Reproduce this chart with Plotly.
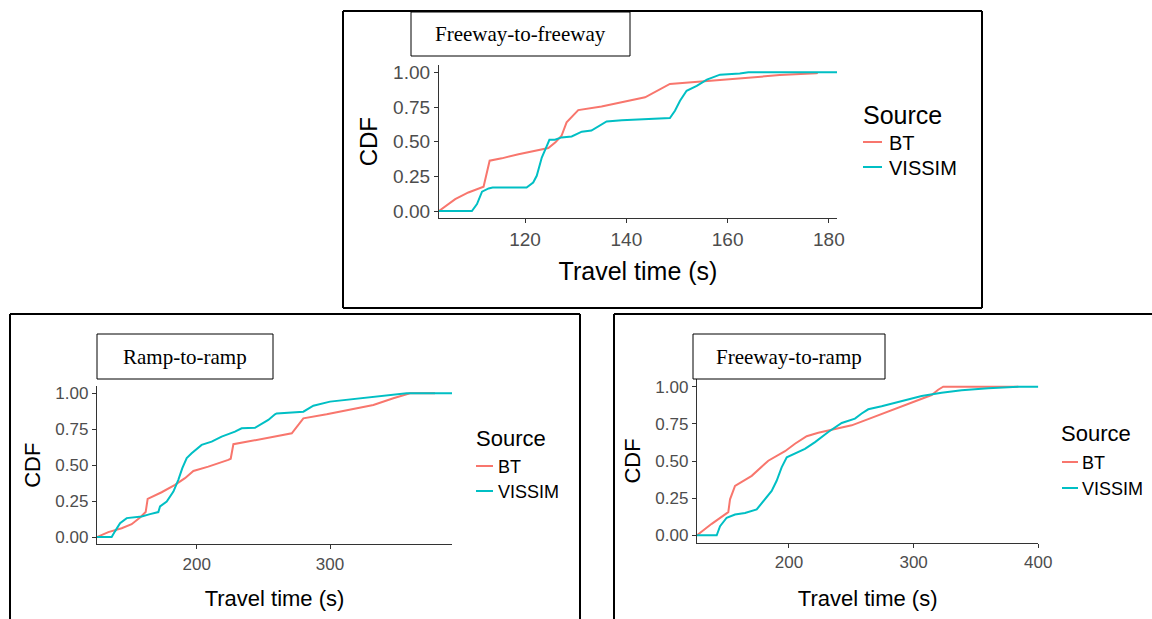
import plotly.graph_objects as go

# ---------------- data ----------------
# Freeway-to-freeway
ff_bt_x = [103.0, 106.2, 108.8, 111.8, 113.0, 115.4, 118.7, 122.0, 124.6, 126.0, 127.2, 128.2,
           130.5, 135.1, 139.0, 143.7, 148.6, 154.5, 162.4, 170.3, 177.5, 177.8]
ff_bt_y = [0.0, 0.086, 0.134, 0.175, 0.363, 0.38, 0.41, 0.435, 0.454, 0.495, 0.543, 0.64,
           0.728, 0.754, 0.783, 0.82, 0.916, 0.934, 0.959, 0.98, 0.993, 0.995]
ff_vs_x = [103.0, 109.5, 110.5, 111.5, 112.8, 113.6, 120.3, 121.6, 122.3, 123.3, 124.3, 124.8,
           125.9, 127.2, 129.2, 131.2, 133.1, 134.5, 136.1, 139.1, 143.7, 148.6, 149.6, 150.6,
           151.9, 153.9, 155.9, 158.5, 162.4, 164.1, 181.6]
ff_vs_y = [0.0, 0.0, 0.05, 0.14, 0.163, 0.17, 0.17, 0.206, 0.254, 0.386, 0.47, 0.514,
           0.514, 0.531, 0.538, 0.572, 0.58, 0.608, 0.646, 0.655, 0.66, 0.67, 0.723, 0.795,
           0.867, 0.903, 0.947, 0.983, 0.992, 1.0, 1.0]

# Ramp-to-ramp
rr_bt_x = [125.0, 133.7, 143.7, 151.2, 157.5, 161.7, 163.2, 173.7, 183.7, 191.2, 197.5, 208.7,
           223.7, 225.5, 227.5, 238.7, 258.7, 271.3, 280.0, 297.5, 315.0, 332.5, 347.5, 360.0, 378.8]
rr_bt_y = [0.0, 0.035, 0.062, 0.09, 0.136, 0.174, 0.266, 0.312, 0.363, 0.41, 0.46, 0.49,
           0.537, 0.545, 0.646, 0.664, 0.699, 0.722, 0.826, 0.854, 0.884, 0.919, 0.965, 1.0, 1.0]
rr_vs_x = [125.0, 136.2, 138.7, 142.5, 147.5, 158.7, 165.0, 171.2, 172.5, 177.5, 182.5, 186.2,
           189.2, 192.5, 196.2, 203.7, 211.2, 218.7, 228.7, 233.7, 243.7, 253.7, 258.7, 260.0,
           280.0, 287.5, 300.0, 322.5, 337.5, 357.5, 391.5]
rr_vs_y = [0.0, 0.0, 0.04, 0.097, 0.132, 0.144, 0.16, 0.174, 0.213, 0.247, 0.317, 0.398,
           0.479, 0.549, 0.583, 0.641, 0.664, 0.699, 0.733, 0.757, 0.76, 0.815, 0.854, 0.86,
           0.872, 0.914, 0.942, 0.965, 0.983, 1.0, 1.0]

# Freeway-to-ramp
fr_bt_x = [126.2, 138.0, 151.3, 152.7, 156.7, 170.1, 183.4, 196.8, 204.8, 214.2, 223.5, 236.9,
           250.3, 263.0, 282.4, 305.0, 314.4, 319.7, 323.7, 384.0]
fr_bt_y = [0.0, 0.077, 0.156, 0.242, 0.333, 0.40, 0.502, 0.566, 0.616, 0.667, 0.69, 0.717,
           0.74, 0.78, 0.842, 0.91, 0.944, 0.98, 1.0, 1.0]
fr_vs_x = [126.2, 142.0, 144.7, 150.0, 156.7, 164.7, 174.1, 179.4, 186.1, 190.1, 194.1, 198.2,
           204.8, 212.8, 220.9, 231.5, 242.3, 252.9, 258.3, 263.6, 274.3, 287.7, 306.4, 322.4,
           338.5, 359.8, 383.9, 400.0]
fr_vs_y = [0.0, 0.0, 0.061, 0.118, 0.14, 0.15, 0.174, 0.231, 0.299, 0.367, 0.457, 0.525,
           0.552, 0.582, 0.627, 0.695, 0.756, 0.785, 0.82, 0.848, 0.868, 0.898, 0.937, 0.96,
           0.977, 0.99, 1.0, 1.0]

panel_titles = ["Freeway-to-freeway", "Ramp-to-ramp", "Freeway-to-ramp"]
series_names = ["BT", "VISSIM"]
legend_title = "Source"
colors = ["#F8766D", "#00BFC4"]
y_ticks = [0, 0.25, 0.5, 0.75, 1.0]
y_ticktext = ["0.00", "0.25", "0.50", "0.75", "1.00"]
x_ticks_ff = [120, 140, 160, 180]
x_ticks_rr = [200, 300]
x_ticks_fr = [200, 300, 400]

W, H = 1152, 619
SANS = "Liberation Sans, Arial, sans-serif"
SERIF = "Liberation Serif, Times New Roman, serif"


def px(x):
    return x / W


def py(y):
    return 1 - y / H


fig = go.Figure()

panels = [
    dict(ax="", data=[(ff_bt_x, ff_bt_y), (ff_vs_x, ff_vs_y)]),
    dict(ax="2", data=[(rr_bt_x, rr_bt_y), (rr_vs_x, rr_vs_y)]),
    dict(ax="3", data=[(fr_bt_x, fr_bt_y), (fr_vs_x, fr_vs_y)]),
]
for i, p in enumerate(panels):
    for (xs, ys), name, col in zip(p["data"], series_names, colors):
        fig.add_trace(go.Scatter(
            x=xs, y=ys, mode="lines", name=name,
            line=dict(color=col, width=2),
            xaxis="x" + p["ax"], yaxis="y" + p["ax"],
            legendgroup=name, showlegend=False,
        ))


def xaxis(domain, rng, ticks, anchor, fs_tick, fs_title, standoff):
    return dict(domain=domain, range=rng, tickvals=ticks, anchor=anchor,
                showline=True, linecolor="#333333", linewidth=1.3,
                ticks="outside", ticklen=4, tickcolor="#333333", tickwidth=1.2,
                showgrid=False, zeroline=False,
                tickfont=dict(family=SANS, size=fs_tick, color="#4D4D4D"),
                title=dict(text="Travel time (s)", font=dict(family=SANS, size=fs_title, color="black"),
                           standoff=standoff),
                automargin=False)


def yaxis(domain, anchor, fs_tick, fs_title, standoff):
    return dict(domain=domain, range=[-0.05, 1.05], tickvals=y_ticks, ticktext=y_ticktext,
                anchor=anchor,
                showline=True, linecolor="#333333", linewidth=1.3,
                ticks="outside", ticklen=4, tickcolor="#333333", tickwidth=1.2,
                showgrid=False, zeroline=False,
                tickfont=dict(family=SANS, size=fs_tick, color="#4D4D4D"),
                title=dict(text="CDF", font=dict(family=SANS, size=fs_title, color="black"),
                           standoff=standoff),
                automargin=False)


fig.update_layout(
    width=W, height=H,
    margin=dict(l=0, r=0, t=0, b=0),
    paper_bgcolor="white", plot_bgcolor="white",
    xaxis=xaxis([px(439), px(837)], [103.0, 181.6], x_ticks_ff, "y", 19, 25, 13),
    yaxis=yaxis([py(218), py(65.4)], "x", 19, 24, 8),
    xaxis2=xaxis([px(97), px(452)], [125.2, 391.5], x_ticks_rr, "y2", 17, 22, 17),
    yaxis2=yaxis([py(544.3), py(386.1)], "x2", 17, 22, 8),
    xaxis3=xaxis([px(697), px(1038.3)], [126.2, 400.0], x_ticks_fr, "y3", 17, 22, 19),
    yaxis3=yaxis([py(542.7), py(379.3)], "x3", 17, 22, 8),
    showlegend=False,
)

# legends (ggplot-style "Source" keys), one per panel
# (title_x, title_y, key_x0, key_x1, text_x, item_ys, title_size, item_size)
legends = [
    (862, 115, 863, 882, 888, [142, 167], 25, 20),
    (475, 438, 476, 493, 497, [466, 491], 22, 18),
    (1060, 433, 1062, 1078, 1081, [462, 488], 22, 18),
]
for tx, ty, kx0, kx1, itx, iys, fst, fsi in legends:
    fig.add_annotation(xref="paper", yref="paper", x=px(tx), y=py(ty), text=legend_title,
                       showarrow=False, xanchor="left", yanchor="middle", borderpad=0,
                       font=dict(family=SANS, size=fst, color="black"))
    for iy, name, col in zip(iys, series_names, colors):
        fig.add_shape(type="line", xref="paper", yref="paper",
                      x0=px(kx0), x1=px(kx1), y0=py(iy), y1=py(iy),
                      line=dict(color=col, width=2))
        fig.add_annotation(xref="paper", yref="paper", x=px(itx), y=py(iy + 1), text=name,
                           showarrow=False, xanchor="left", yanchor="middle", borderpad=0,
                           font=dict(family=SANS, size=fsi, color="black"))

# outer frames of the three panels (kept inside the page)
frame_lines = [
    (343, 11, 982, 11), (343, 308, 982, 308), (343, 11, 343, 308), (982, 11, 982, 308),
    (10, 314, 580, 314), (10, 314, 10, 619), (580, 314, 580, 619),
    (614, 314, 1152, 314), (614, 314, 614, 619),
]
for x0, y0, x1, y1 in frame_lines:
    fig.add_shape(type="line", xref="paper", yref="paper",
                  x0=px(x0), y0=py(y0), x1=px(x1), y1=py(y1),
                  line=dict(color="black", width=2), layer="above")

# title boxes
boxes = [(411, 12, 630, 56), (97, 334, 273, 379), (693, 334, 885, 379)]
for (x0, y0, x1, y1), t in zip(boxes, panel_titles):
    fig.add_shape(type="rect", xref="paper", yref="paper",
                  x0=px(x0), y0=py(y1), x1=px(x1), y1=py(y0),
                  line=dict(color="black", width=1), fillcolor="white", layer="above")
    fig.add_annotation(xref="paper", yref="paper", x=px((x0 + x1) / 2), y=py((y0 + y1) / 2),
                       text=t, showarrow=False, xanchor="center", yanchor="middle",
                       font=dict(family=SERIF, size=21, color="black"))

fig.write_html("out.html")
